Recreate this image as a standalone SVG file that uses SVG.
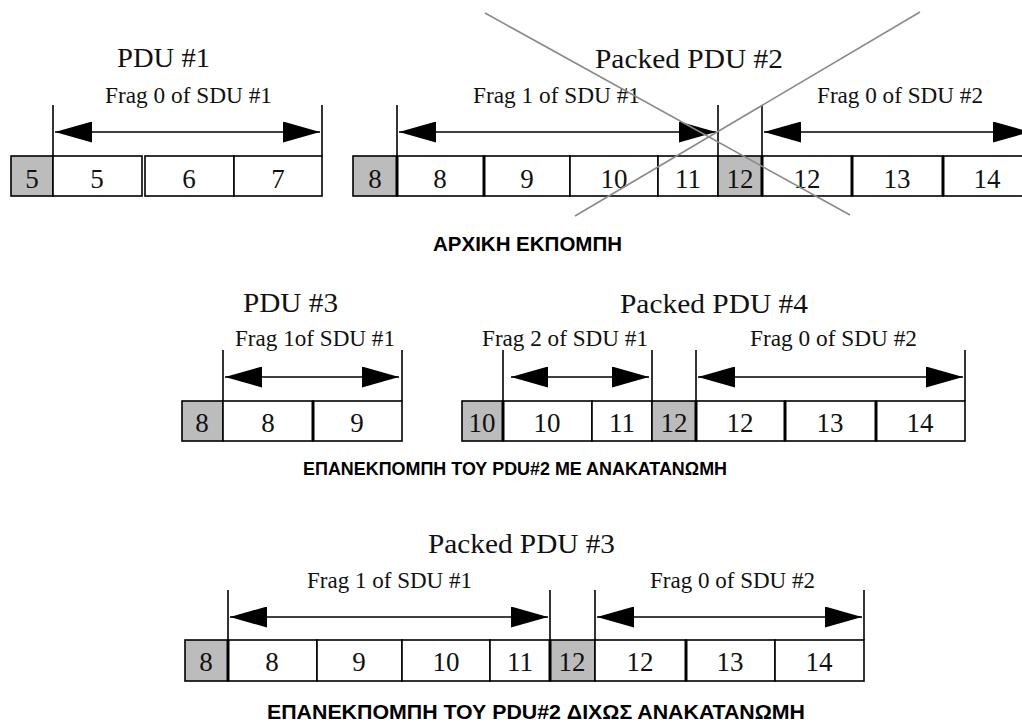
<svg xmlns="http://www.w3.org/2000/svg" width="1022" height="722" viewBox="0 0 1022 722">
<defs>
<marker id="ah" viewBox="0 0 37 21" refX="37" refY="10.5" markerWidth="37" markerHeight="21" markerUnits="userSpaceOnUse" orient="auto-start-reverse">
<path d="M0,0 L37,10.5 L0,21 Z" fill="#000"/>
</marker>
</defs>
<style>
.cell{fill:#fff;stroke:#000;stroke-width:1.6}
.hdr{fill:#bcbcbc;stroke:#000;stroke-width:1.6}
.thick{stroke:#000;stroke-width:3}
.num{font-family:"Liberation Serif",serif;font-size:27px;text-anchor:middle;fill:#111}
.title{font-family:"Liberation Serif",serif;font-size:28px;fill:#111}
.frag{font-family:"Liberation Serif",serif;font-size:23px;fill:#111}
.cap{font-family:"Liberation Sans",Arial,sans-serif;font-weight:bold;fill:#000}
.vl{stroke:#000;stroke-width:1.6}
.arr{stroke:#000;stroke-width:1.6;marker-start:url(#ah);marker-end:url(#ah)}
.cross{stroke:#8a8a8a;stroke-width:1.6}
</style>
<rect width="1022" height="722" fill="#fff"/>

<!-- Row 1 -->
<g id="pdu1">
<rect class="hdr" x="11" y="156" width="42" height="40"/>
<rect class="cell" x="53" y="156" width="89" height="40"/>
<rect class="cell" x="145" y="156" width="89" height="40"/>
<rect class="cell" x="234" y="156" width="88" height="40"/>
<text class="num" x="32" y="188">5</text>
<text class="num" x="97" y="188">5</text>
<text class="num" x="189" y="188">6</text>
<text class="num" x="278" y="188">7</text>
<text class="title" x="117" y="67" textLength="93" lengthAdjust="spacingAndGlyphs">PDU #1</text>
<text class="frag" x="105" y="103" textLength="167" lengthAdjust="spacingAndGlyphs">Frag 0 of SDU #1</text>
</g>

<g id="pdu2">
<rect class="hdr" x="353" y="156" width="44" height="40"/>
<rect class="cell" x="397" y="156" width="87" height="40"/>
<rect class="cell" x="484" y="156" width="86" height="40"/>
<rect class="cell" x="570" y="156" width="88" height="40"/>
<rect class="cell" x="658" y="156" width="60" height="40"/>
<rect class="hdr" x="718" y="156" width="44" height="40"/>
<rect class="cell" x="762" y="156" width="90" height="40"/>
<rect class="cell" x="852" y="156" width="91" height="40"/>
<rect class="cell" x="943" y="156" width="90" height="40"/>
<line class="thick" x1="397" y1="156" x2="397" y2="196"/>
<line class="thick" x1="484" y1="156" x2="484" y2="196"/>
<line class="thick" x1="762" y1="156" x2="762" y2="196"/>
<line class="thick" x1="852" y1="156" x2="852" y2="196"/>
<line class="thick" x1="943" y1="156" x2="943" y2="196"/>
<text class="num" x="375" y="188">8</text>
<text class="num" x="440" y="188">8</text>
<text class="num" x="527" y="188">9</text>
<text class="num" x="614" y="188">10</text>
<text class="num" x="688" y="188">11</text>
<text class="num" x="740" y="188">12</text>
<text class="num" x="807" y="188">12</text>
<text class="num" x="897" y="188">13</text>
<text class="num" x="987" y="188">14</text>
<text class="title" x="595" y="68" textLength="188" lengthAdjust="spacingAndGlyphs">Packed PDU #2</text>
<text class="frag" x="473" y="103" textLength="167" lengthAdjust="spacingAndGlyphs">Frag 1 of SDU #1</text>
<text class="frag" x="817" y="103" textLength="166" lengthAdjust="spacingAndGlyphs">Frag 0 of SDU #2</text>
</g>

<text id="cap1" class="cap" x="433" y="251" font-size="20" textLength="189" lengthAdjust="spacingAndGlyphs">ΑΡΧΙΚΗ ΕΚΠΟΜΠΗ</text>

<!-- Row 2 -->
<g id="pdu3">
<rect class="hdr" x="182" y="401" width="41" height="40"/>
<rect class="cell" x="223" y="401" width="90" height="40"/>
<rect class="cell" x="313" y="401" width="89" height="40"/>
<line class="thick" x1="313" y1="401" x2="313" y2="441"/>
<text class="num" x="202" y="432">8</text>
<text class="num" x="268" y="432">8</text>
<text class="num" x="357" y="432">9</text>
<text class="title" x="243" y="312" textLength="95" lengthAdjust="spacingAndGlyphs">PDU #3</text>
<text class="frag" x="235" y="346" textLength="160" lengthAdjust="spacingAndGlyphs">Frag 1of SDU #1</text>
</g>

<g id="pdu4">
<rect class="hdr" x="462" y="401" width="41" height="40"/>
<rect class="cell" x="503" y="401" width="89" height="40"/>
<rect class="cell" x="592" y="401" width="60" height="40"/>
<rect class="hdr" x="652" y="401" width="44" height="40"/>
<rect class="cell" x="696" y="401" width="89" height="40"/>
<rect class="cell" x="785" y="401" width="91" height="40"/>
<rect class="cell" x="876" y="401" width="89" height="40"/>
<line class="thick" x1="503" y1="401" x2="503" y2="441"/>
<line class="thick" x1="696" y1="401" x2="696" y2="441"/>
<line class="thick" x1="785" y1="401" x2="785" y2="441"/>
<line class="thick" x1="876" y1="401" x2="876" y2="441"/>
<text class="num" x="482" y="432">10</text>
<text class="num" x="547" y="432">10</text>
<text class="num" x="622" y="432">11</text>
<text class="num" x="674" y="432">12</text>
<text class="num" x="740" y="432">12</text>
<text class="num" x="830" y="432">13</text>
<text class="num" x="920" y="432">14</text>
<text class="title" x="620" y="313" textLength="188" lengthAdjust="spacingAndGlyphs">Packed PDU #4</text>
<text class="frag" x="482" y="346" textLength="166" lengthAdjust="spacingAndGlyphs">Frag 2 of SDU #1</text>
<text class="frag" x="750" y="346" textLength="167" lengthAdjust="spacingAndGlyphs">Frag 0 of SDU #2</text>
</g>

<text id="cap2" class="cap" x="303" y="475" font-size="19" textLength="424" lengthAdjust="spacingAndGlyphs">ΕΠΑΝΕΚΠΟΜΠΗ ΤΟΥ PDU#2 ΜΕ ΑΝΑΚΑΤΑΝΩΜΗ</text>

<!-- Row 3 -->
<g id="pdu3packed">
<rect class="hdr" x="185" y="640" width="43" height="41"/>
<rect class="cell" x="228" y="640" width="89" height="41"/>
<rect class="cell" x="317" y="640" width="85" height="41"/>
<rect class="cell" x="402" y="640" width="88" height="41"/>
<rect class="cell" x="490" y="640" width="60" height="41"/>
<rect class="hdr" x="550" y="640" width="45" height="41"/>
<rect class="cell" x="595" y="640" width="91" height="41"/>
<rect class="cell" x="686" y="640" width="89" height="41"/>
<rect class="cell" x="775" y="640" width="89" height="41"/>
<line class="thick" x1="228" y1="640" x2="228" y2="681"/>
<line class="thick" x1="550" y1="640" x2="550" y2="681"/>
<line class="thick" x1="686" y1="640" x2="686" y2="681"/>
<text class="num" x="206" y="671">8</text>
<text class="num" x="272" y="671">8</text>
<text class="num" x="359" y="671">9</text>
<text class="num" x="446" y="671">10</text>
<text class="num" x="520" y="671">11</text>
<text class="num" x="572" y="671">12</text>
<text class="num" x="640" y="671">12</text>
<text class="num" x="730" y="671">13</text>
<text class="num" x="819" y="671">14</text>
<text class="title" x="428" y="553" textLength="187" lengthAdjust="spacingAndGlyphs">Packed PDU #3</text>
<text class="frag" x="307" y="588" textLength="165" lengthAdjust="spacingAndGlyphs">Frag 1 of SDU #1</text>
<text class="frag" x="650" y="588" textLength="165" lengthAdjust="spacingAndGlyphs">Frag 0 of SDU #2</text>
</g>

<text id="cap3" class="cap" x="267" y="719" font-size="21" textLength="538" lengthAdjust="spacingAndGlyphs">ΕΠΑΝΕΚΠΟΜΠΗ ΤΟΥ PDU#2 ΔΙΧΩΣ ΑΝΑΚΑΤΑΝΩΜΗ</text>

<g id="connectors">
<line class="vl" x1="53" y1="105" x2="53" y2="156"/>
<line class="vl" x1="322" y1="105" x2="322" y2="156"/>
<line class="arr" x1="55" y1="132" x2="320" y2="132"/>
<line class="vl" x1="397" y1="105" x2="397" y2="156"/>
<line class="vl" x1="718" y1="105" x2="718" y2="156"/>
<line class="vl" x1="762" y1="105" x2="762" y2="156"/>
<line class="arr" x1="399" y1="132" x2="716" y2="132"/>
<line class="arr" x1="764" y1="132" x2="1030" y2="132"/>

<line class="vl" x1="223" y1="350" x2="223" y2="401"/>
<line class="vl" x1="402" y1="350" x2="402" y2="401"/>
<line class="arr" x1="225" y1="377" x2="399" y2="377"/>
<line class="vl" x1="503" y1="350" x2="503" y2="401"/>
<line class="vl" x1="652" y1="350" x2="652" y2="401"/>
<line class="arr" x1="511" y1="377" x2="649" y2="377"/>
<line class="vl" x1="696" y1="350" x2="696" y2="401"/>
<line class="vl" x1="965" y1="350" x2="965" y2="401"/>
<line class="arr" x1="698" y1="377" x2="963" y2="377"/>

<line class="vl" x1="228" y1="590" x2="228" y2="640"/>
<line class="vl" x1="550" y1="590" x2="550" y2="640"/>
<line class="arr" x1="230" y1="617" x2="548" y2="617"/>
<line class="vl" x1="595" y1="590" x2="595" y2="640"/>
<line class="vl" x1="864" y1="590" x2="864" y2="640"/>
<line class="arr" x1="597" y1="617" x2="862" y2="617"/>
</g>

<g id="cross">
<line class="cross" x1="485" y1="13" x2="850" y2="215"/>
<line class="cross" x1="920" y1="12" x2="575" y2="216"/>
</g>
</svg>
